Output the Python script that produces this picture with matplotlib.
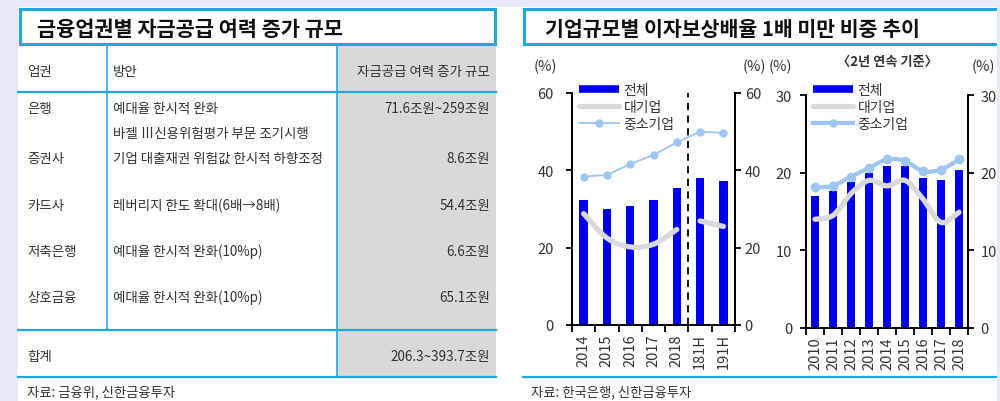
import numpy as np
import matplotlib
matplotlib.use('Agg')
import matplotlib.pyplot as plt
from matplotlib.patches import Rectangle, PathPatch
from matplotlib.lines import Line2D
from matplotlib.path import Path

plt.rcParams['font.family'] = ['Noto Sans CJK KR', 'DejaVu Sans']

# ---- data ----
sectors = ['은행', '증권사', '카드사', '저축은행', '상호금융']
measures = ['예대율 한시적 완화', '바젤 Ⅲ신용위험평가 부문 조기시행',
            '기업 대출재권 위험값 한시적 하향조정', '레버리지 한도 확대(6배→8배)',
            '예대율 한시적 완화(10%p)', '예대율 한시적 완화(10%p)']
amounts = ['71.6조원~259조원', '8.6조원', '54.4조원', '6.6조원', '65.1조원']
total_amount = '206.3~393.7조원'

years1 = ['2014', '2015', '2016', '2017', '2018', '181H', '191H']
total1 = [32.3, 29.9, 30.7, 32.3, 35.5, 38.1, 37.2]
large1 = [28.8, 22.5, 20.2, 20.9, 24.7, 26.9, 25.5]
sme1 = [38.4, 38.8, 41.6, 44.0, 47.2, 50.0, 49.7]

years2 = ['2010', '2011', '2012', '2013', '2014', '2015', '2016', '2017', '2018']
total2 = [17.0, 17.6, 18.8, 20.0, 20.8, 20.8, 19.3, 19.1, 20.4]
large2 = [14.0, 14.5, 17.3, 19.0, 18.3, 19.0, 16.6, 13.6, 14.9]
sme2 = [18.1, 18.3, 19.5, 20.6, 21.7, 21.5, 20.2, 20.4, 21.7]

# ---- style ----
W, H = 1000, 402
CYAN = '#1FA8DC'
BLUE = '#0000EE'
GRAY = '#D9D9D9'
LBLUE = '#9DC6F2'
TXT = '#333333'
TFS = 9.7  # table font size


def fx(x):
    return x / W


def fy(y):
    return 1 - y / H


def smooth_path(xs, ys):
    pts = np.column_stack([xs, ys]).astype(float)
    n = len(pts)
    verts, codes = [pts[0]], [Path.MOVETO]
    for i in range(n - 1):
        p0, p1 = pts[max(i - 1, 0)], pts[i]
        p2, p3 = pts[i + 1], pts[min(i + 2, n - 1)]
        verts += [p1 + (p2 - p0) / 6, p2 - (p3 - p1) / 6, p2]
        codes += [Path.CURVE4] * 3
    return Path(verts, codes)


def frect(x0, y0, x1, y1, **kw):
    r = Rectangle((fx(x0), fy(y1)), fx(x1) - fx(x0), fy(y0) - fy(y1),
                  transform=fig.transFigure, **kw)
    fig.add_artist(r)
    return r


def fline(x0, y0, x1, y1, **kw):
    fig.add_artist(Line2D([fx(x0), fx(x1)], [fy(y0), fy(y1)],
                          transform=fig.transFigure, **kw))


def ftext(x, y, s, **kw):
    kw.setdefault('color', TXT)
    kw.setdefault('va', 'center')
    fig.text(fx(x), fy(y), s, **kw)


fig = plt.figure(figsize=(10, 4.02), dpi=100, facecolor='#E6E9F8')

# white panel
frect(18, 8, 997, 402, facecolor='white', edgecolor='none', zorder=0)

# ---- left table ----
frect(20, 10, 495, 45, facecolor='white', edgecolor=CYAN, lw=2.2, zorder=2)
ftext(37, 29, '금융업권별 자금공급 여력 증가 규모', fontsize=15, fontweight='bold', color='#111111')

frect(337, 47, 496, 378, facecolor=GRAY, edgecolor='none', zorder=1)
for y in (93, 331, 378):
    fline(18, y, 496, y, color=CYAN, lw=1.6, zorder=3)
fline(107, 47, 107, 331, color=CYAN, lw=1.2, zorder=3)
fline(337, 47, 337, 378, color=CYAN, lw=1.2, zorder=3)

ftext(27, 72, '업권', fontsize=TFS)
ftext(113, 72, '방안', fontsize=TFS)
ftext(490, 72, '자금공급 여력 증가 규모', fontsize=TFS, ha='right')

sector_y = [109, 159, 206, 252, 298]
measure_y = [109, 134, 159, 206, 252, 298]
for s, y in zip(sectors, sector_y):
    ftext(27, y, s, fontsize=TFS)
for m, y in zip(measures, measure_y):
    ftext(113, y, m, fontsize=TFS)
for a, y in zip(amounts, sector_y):
    ftext(490, y, a, fontsize=TFS, ha='right')
ftext(27, 357, '합계', fontsize=TFS)
ftext(490, 357, total_amount, fontsize=TFS, ha='right')
ftext(27, 392, '자료: 금융위, 신한금융투자', fontsize=9.6)

# ---- right panel frame ----
frect(524, 10, 998, 45, facecolor='white', edgecolor=CYAN, lw=2.2, zorder=2)
ftext(545, 29, '기업규모별 이자보상배율 1배 미만 비중 추이', fontsize=14.8, fontweight='bold', color='#111111')
fline(523, 378, 997, 378, color=CYAN, lw=1.6, zorder=3)
ftext(531, 392, '자료: 한국은행, 신한금융투자', fontsize=9.6)
ftext(887, 62, '〈2년 연속 기준〉', fontsize=9.5, ha='center', fontweight='bold')
for x in (545, 754, 780, 983):
    ftext(x, 67, '(%)', fontsize=10.5, ha='center')


def style_axes(ax, axr, n, labels, ymax, step, lpad, rpad):
    ax.set_facecolor('none')
    ax.set_xlim(-0.5, n - 0.5)
    ax.set_ylim(0, ymax)
    axr.set_ylim(0, ymax)
    for a in (ax, axr):
        a.spines['top'].set_visible(False)
        for sp in a.spines.values():
            sp.set_linewidth(1.3)
            sp.set_color('black')
    ax.set_yticks(np.arange(0, ymax + 1, step))
    axr.set_yticks(np.arange(0, ymax + 1, step))
    ax.tick_params(axis='y', length=4, width=1.3, pad=lpad, labelsize=10.5, labelcolor=TXT)
    axr.tick_params(axis='y', length=4, width=1.3, pad=rpad, labelsize=10.5, labelcolor=TXT)
    ax.set_xticks(np.arange(-0.5, n, 1.0))
    ax.set_xticklabels([])
    ax.tick_params(axis='x', which='major', length=5, width=1.3)
    ax.set_xticks(np.arange(n), minor=True)
    ax.set_xticklabels(labels, minor=True, rotation=90, fontsize=10.5, color=TXT)
    ax.tick_params(axis='x', which='minor', length=0, pad=6)


# ---- chart 1 ----
ax1 = fig.add_axes([fx(572), fy(326), fx(735) - fx(572), fy(94) - fy(326)])
ax1r = ax1.twinx()
x1 = np.arange(len(years1))
ax1.bar(x1, total1, width=0.36, color=BLUE, zorder=2)
ax1.add_patch(PathPatch(smooth_path(x1[:5], large1[:5]), fill=False, edgecolor=GRAY,
                        lw=3.8, capstyle='round', joinstyle='round', zorder=3))
ax1.add_patch(PathPatch(smooth_path(x1[5:], large1[5:]), fill=False, edgecolor=GRAY,
                        lw=3.8, capstyle='round', joinstyle='round', zorder=3))
ax1.plot(x1, sme1, color=LBLUE, lw=1.3, marker='o', markersize=5, zorder=4)
ax1.axvline(4.5, color='black', lw=1.3, ls=(0, (4, 3)), zorder=5)
style_axes(ax1, ax1r, len(years1), years1, 60, 20, 9, 3)

# ---- chart 2 ----
ax2 = fig.add_axes([fx(806), fy(329), fx(968) - fx(806), fy(96) - fy(329)])
ax2r = ax2.twinx()
x2 = np.arange(len(years2))
ax2.bar(x2, total2, width=0.46, color=BLUE, zorder=2)
ax2.add_patch(PathPatch(smooth_path(x2, large2), fill=False, edgecolor=GRAY,
                        lw=3.8, capstyle='round', joinstyle='round', zorder=3))
ax2.add_patch(PathPatch(smooth_path(x2, sme2), fill=False, edgecolor=LBLUE,
                        lw=3.0, capstyle='round', joinstyle='round', zorder=4))
ax2.plot(x2, sme2, ls='none', marker='o', markersize=6, color=LBLUE, zorder=4)
style_axes(ax2, ax2r, len(years2), years2, 30, 10, 6, 5)

# ---- legends ----
h_tot = Line2D([], [], color=BLUE, lw=5.5, solid_capstyle='butt')
h_large = Line2D([], [], color=GRAY, lw=3.8, solid_capstyle='round')
h_sme1 = Line2D([], [], color=LBLUE, lw=1.3, marker='o', markersize=5)
h_sme2 = Line2D([], [], color=LBLUE, lw=3.0, marker='o', markersize=5)
names = ['전체', '대기업', '중소기업']
for handles, x0 in (([h_tot, h_large, h_sme1], 579), ([h_tot, h_large, h_sme2], 813)):
    fig.legend(handles, names, loc='upper left', bbox_to_anchor=(fx(x0), fy(84)),
               bbox_transform=fig.transFigure, frameon=False, fontsize=10,
               handlelength=2.9, handletextpad=0.3, labelspacing=0.2,
               borderpad=0, borderaxespad=0, labelcolor=TXT)

# right edge strip
frect(997, 0, 1000, 402, facecolor='#E6E9F8', edgecolor='none', zorder=10)

fig.savefig('out.png', dpi=100, facecolor=fig.get_facecolor())
